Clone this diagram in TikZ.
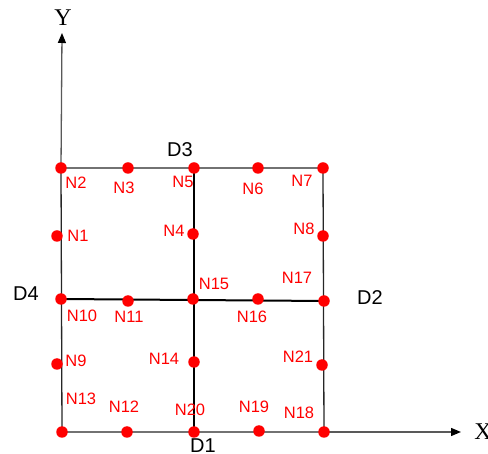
\documentclass[tikz,border=0pt]{standalone}
\usepackage{fontspec}
\setmainfont{Liberation Sans}
\newfontfamily\axisserif{Liberation Serif}
\usetikzlibrary{arrows.meta,backgrounds}
\begin{document}
\begin{tikzpicture}[x=1pt,y=-1pt,
  dot/.style={circle,fill=red,inner sep=0pt,minimum size=11.5pt},
  nlab/.style={text=red,font=\fontsize{16.5}{16.5}\selectfont,inner sep=0pt},
  dlab/.style={font=\fontsize{20}{20}\selectfont,inner sep=0pt},
  axlab/.style={font=\axisserif\fontsize{24}{24}\selectfont,inner sep=0pt},
  edge/.style={draw=black!85,line width=1.3pt},
  cross/.style={draw=black,line width=2pt},
  axisline/.style={draw=black!65,line width=1.3pt,-{Triangle[length=10pt,width=8pt,color=black,fill=black]}}]
\useasboundingbox (0,0) rectangle (488,454);
% dots
\node[dot] (n1)  at (57,236) {};
\node[dot] (n2)  at (61,168) {};
\node[dot] (n3)  at (128,168) {};
\node[dot] (n4)  at (193,234) {};
\node[dot] (n5)  at (194,168) {};
\node[dot] (n6)  at (258,168) {};
\node[dot] (n7)  at (323,168) {};
\node[dot] (n8)  at (323,236) {};
\node[dot] (n9)  at (57,364) {};
\node[dot] (n10) at (61,299) {};
\node[dot] (n11) at (128,301) {};
\node[dot] (n12) at (127,432) {};
\node[dot] (n13) at (62,432) {};
\node[dot] (n14) at (194,362) {};
\node[dot] (n15) at (193,299) {};
\node[dot] (n16) at (258,299) {};
\node[dot] (n17) at (324,301) {};
\node[dot] (n18) at (324,432) {};
\node[dot] (n19) at (259,431) {};
\node[dot] (n20) at (194,432) {};
\node[dot] (n21) at (322,365) {};
\coordinate (ytip) at (62,33);
\coordinate (xtip) at (461,432);
% lines
\begin{scope}[on background layer]
\draw[axisline] (n2.center) -- (ytip);
\draw[axisline] (n18.center) -- (xtip);
\draw[edge] (n2.center) -- (n7.center) -- (n18.center) -- (n13.center) -- cycle;
\draw[cross] (n5.center) -- (n20.center);
\draw[cross] (n10.center) -- (n17.center);
\end{scope}
% labels
\node[nlab] (l1)  at (78,236) {N1};
\node[nlab] (l2)  at (76,183) {N2};
\node[nlab] (l3)  at (124,188) {N3};
\node[nlab] (l4)  at (174,231) {N4};
\node[nlab] (l5)  at (183,182) {N5};
\node[nlab] (l6)  at (253,189) {N6};
\node[nlab] (l7)  at (302,181) {N7};
\node[nlab] (l8)  at (304,229) {N8};
\node[nlab] (l9)  at (76,361) {N9};
\node[nlab] (l10) at (82,316) {N10};
\node[nlab] (l11) at (129,317) {N11};
\node[nlab] (l12) at (124,407) {N12};
\node[nlab] (l13) at (81,399) {N13};
\node[nlab] (l14) at (164,359) {N14};
\node[nlab] (l15) at (214,284) {N15};
\node[nlab] (l16) at (252,317) {N16};
\node[nlab] (l17) at (297,278) {N17};
\node[nlab] (l18) at (299,413) {N18};
\node[nlab] (l19) at (254,407) {N19};
\node[nlab] (l20) at (190,410) {N20};
\node[nlab] (l21) at (298,357) {N21};
\node[dlab] (d1) at (203,446) {D1};
\node[dlab] (d2) at (370,298) {D2};
\node[dlab] (d3) at (180,150) {D3};
\node[dlab] (d4) at (26,294) {D4};
\node[axlab] (lx) at (483,432) {X};
\node[axlab] (ly) at (63,18) {Y};
\end{tikzpicture}
\end{document}
